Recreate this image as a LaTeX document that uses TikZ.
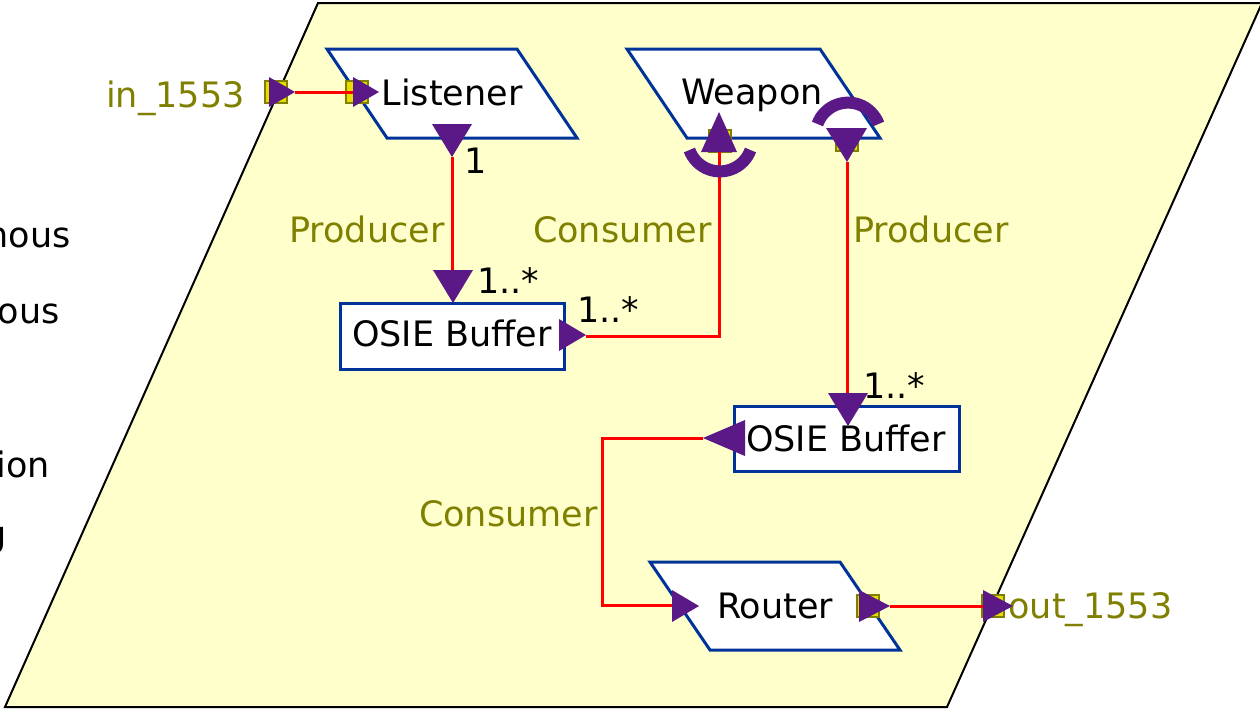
\documentclass[tikz,border=0pt]{standalone}
\usepackage{fontspec}
\setmainfont{DejaVu Sans}
\definecolor{bgyellow}{RGB}{255,255,204}
\definecolor{nodeblue}{RGB}{0,51,153}
\definecolor{flowred}{RGB}{255,0,0}
\definecolor{tipviolet}{RGB}{90,25,135}
\definecolor{olivetext}{RGB}{128,128,0}
\definecolor{portfill}{RGB}{230,220,0}
\begin{document}
\begin{tikzpicture}[x=0.5pt,y=-0.5pt,
  font=\fontsize{17.5}{21}\selectfont,
  shapebox/.style={draw=nodeblue,line width=1.5pt,fill=white},
  rectbox/.style={shapebox,rectangle,minimum width=112pt,inner sep=0pt},
  port/.style={draw=olivetext,fill=portfill,line width=1pt,minimum size=11pt,inner sep=0pt},
  flow/.style={draw=flowred,line width=1.5pt},
  tip/.style={fill=tipviolet},
  socket/.style={draw=tipviolet,line width=6pt},
  lbl/.style={text=olivetext,inner sep=0pt},
  mult/.style={text=black,inner sep=0pt}]
\useasboundingbox (0,0) rectangle (1260,709);
\clip (0,0) rectangle (1260,709);
\fill[white] (0,0) rectangle (1260,709);
% package frame
\draw[fill=bgyellow,line width=1pt] (318,3) -- (1262,3) -- (947,707) -- (5,707) -- cycle;
% clipped texts at left
\node[anchor=base east,inner sep=0pt] (t1) at (71,247) {Asynchronous};
\node[anchor=base east,inner sep=0pt] (t2) at (60,323) {Synchronous};
\node[anchor=base east,inner sep=0pt] (t3) at (50,477) {Composition};
\node[anchor=base east,inner sep=0pt] (t4) at (7,546) {Polling};
% parallelogram parts
\draw[shapebox] (327,49) -- (517,49) -- (577,138) -- (387,138) -- cycle;
\node[anchor=base,inner sep=0pt] (listener) at (452,105) {Listener};
\draw[shapebox] (627,49) -- (820,49) -- (880,138) -- (687,138) -- cycle;
\node[anchor=base,inner sep=0pt] (weapon) at (752,104) {Weapon};
\draw[shapebox] (650,562) -- (840,562) -- (900,650) -- (710,650) -- cycle;
\node[anchor=base,inner sep=0pt] (router) at (775,618) {Router};
% buffers
\node[rectbox,minimum height=33pt] (buf1) at (452,336) {};
\node[anchor=base,inner sep=0pt] (buf1t) at (452,346) {OSIE Buffer};
\node[rectbox,minimum width=112.5pt,minimum height=32.5pt] (buf2) at (846.5,438.5) {};
\node[anchor=base,inner sep=0pt] (buf2t) at (846,451) {OSIE Buffer};
% ports
\node[port] (pin) at (276,92) {};
\node[port] (plis) at (357,92) {};
\node[port] (pwl) at (720,141) {};
\node[port] (pwr) at (847,140) {};
\node[port] (prt) at (868,606) {};
\node[port] (pout) at (993,606) {};
% port labels
\node[lbl,anchor=base east] (inlbl) at (245,107) {in\_1553};
\node[lbl,anchor=base west] (outlbl) at (1008,618) {out\_1553};
% connector coordinates
\coordinate (a1) at (295,92);
\coordinate (a2) at (353,92);
\coordinate (b1) at (452,157);
\coordinate (b2) at (452,280);
\coordinate (c1) at (586,336);
\coordinate (c2) at (719,336);
\coordinate (c3) at (719,150);
\coordinate (d1) at (847,162);
\coordinate (d2) at (847,400);
\coordinate (e1) at (703,438);
\coordinate (e2) at (602,438);
\coordinate (e3) at (602,605);
\coordinate (e4) at (680,605);
\coordinate (f1) at (890,606);
\coordinate (f2) at (985,606);
% connectors
\draw[flow] (a1) -- (a2);
\draw[flow] (b1) -- (b2);
\draw[flow] (c1) -- (c2) -- (c3);
\draw[flow] (d1) -- (d2);
\draw[flow] (e1) -- (e2) -- (e3) -- (e4);
\draw[flow] (f1) -- (f2);
% arrow triangles
\fill[tip] (269,77) -- (295,92) -- (269,107) -- cycle;
\fill[tip] (353,77) -- (379,92) -- (353,107) -- cycle;
\fill[tip] (432,124) -- (472,124) -- (452,157) -- cycle;
\fill[tip] (433,270) -- (473,270) -- (453,303) -- cycle;
\fill[tip] (559,319) -- (586,335) -- (559,351) -- cycle;
\fill[tip] (701,152) -- (737,152) -- (719,112) -- cycle;
\fill[tip] (826,128) -- (867,128) -- (847,162) -- cycle;
\fill[tip] (828,393) -- (868,393) -- (848,426) -- cycle;
\fill[tip] (745,420) -- (745,456) -- (703,438) -- cycle;
\fill[tip] (672,590) -- (699,606) -- (672,622) -- cycle;
\fill[tip] (859,590) -- (890,606) -- (859,622) -- cycle;
\fill[tip] (983,590) -- (1013,606) -- (983,622) -- cycle;
% sockets
\draw[socket] (750.5,150) arc[start angle=20,end angle=160,radius=32.5];
\draw[socket] (817.5,124) arc[start angle=200,end angle=340,radius=32.5];
% association labels
\node[lbl,anchor=base west] (prod1) at (289,242) {Producer};
\node[lbl,anchor=base east] (cons1) at (712,242) {Consumer};
\node[lbl,anchor=base west] (prod2) at (853,242) {Producer};
\node[lbl,anchor=base east] (cons2) at (598,526) {Consumer};
% multiplicities
\node[mult,anchor=base west] (m1) at (464,173) {1};
\node[mult,anchor=base west] (m2) at (477,293) {1..*};
\node[mult,anchor=base west] (m3) at (577,322) {1..*};
\node[mult,anchor=base west] (m4) at (863,398) {1..*};
\end{tikzpicture}
\end{document}
